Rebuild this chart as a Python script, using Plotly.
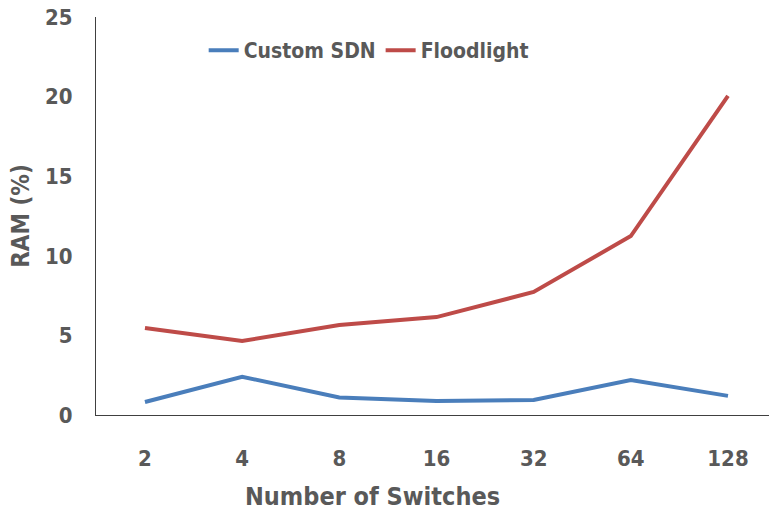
import plotly.graph_objects as go

switches = ["2", "4", "8", "16", "32", "64", "128"]
custom_sdn = [0.82, 2.4, 1.1, 0.88, 0.94, 2.2, 1.2]
floodlight = [5.46, 4.65, 5.65, 6.15, 7.73, 11.24, 20.04]
y_ticks = [0, 5, 10, 15, 20, 25]

FONT = "DejaVu Sans Condensed"
GRAY = "#595959"

fig = go.Figure()
fig.add_trace(go.Scatter(x=switches, y=custom_sdn, mode="lines", name="Custom SDN",
                         line=dict(color="#4a7ebb", width=4)))
fig.add_trace(go.Scatter(x=switches, y=floodlight, mode="lines", name="Floodlight",
                         line=dict(color="#be4b48", width=4)))

fig.update_layout(
    width=769, height=519,
    margin=dict(l=96, r=0, t=17, b=104),
    plot_bgcolor="white", paper_bgcolor="white",
    font=dict(family=FONT, color=GRAY, size=21),
    showlegend=True,
    legend=dict(orientation="h", x=0.16, y=0.967, xanchor="left", yanchor="top",
                font=dict(size=21, color=GRAY, family=FONT, weight="bold"),
                bgcolor="rgba(0,0,0,0)", itemwidth=30, tracegroupgap=0),
    xaxis=dict(type="category", range=[-0.504, 6.422], showline=True, linecolor="#404040",
               linewidth=1, showgrid=False, ticks="", ticklabelstandoff=24,
               tickfont=dict(size=22, family=FONT, color=GRAY, weight="bold")),
    yaxis=dict(range=[0, 25], tickvals=y_ticks, showline=True, linecolor="#404040",
               linewidth=1, showgrid=False, zeroline=False, ticks="", ticklabelstandoff=18,
               tickfont=dict(size=22, family=FONT, color=GRAY, weight="bold"),
               title=dict(text="RAM (%)", standoff=8,
                          font=dict(size=24, family=FONT, color=GRAY, weight="bold"))),
    annotations=[dict(text="Number of Switches", xref="paper", yref="paper",
                      x=(372 - 96) / 673, y=-(497 - 415) / 398, xanchor="center", yanchor="middle",
                      showarrow=False,
                      font=dict(size=25, family=FONT, color=GRAY, weight="bold"))],
)

fig.write_html("out.html", config={"displayModeBar": False},
               post_script="document.body.style.margin='0';")
